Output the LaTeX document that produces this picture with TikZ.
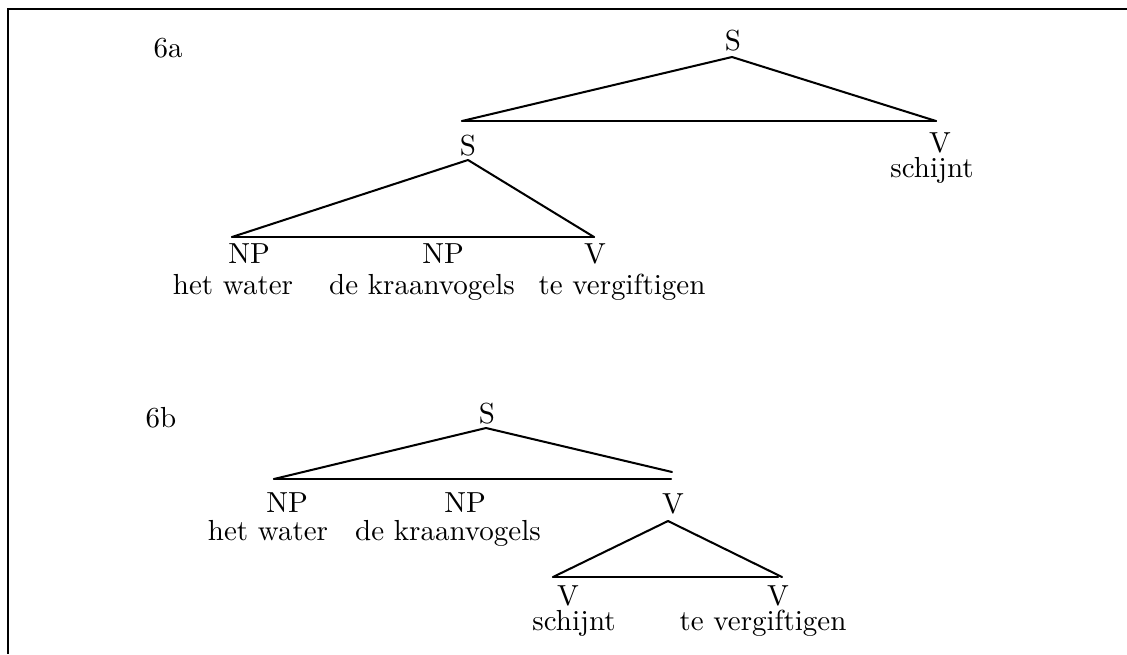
\documentclass[tikz,border=0pt]{standalone}
\begin{document}
\begin{tikzpicture}[x=0.3448pt,y=-0.3448pt,
  lbl/.style={anchor=base,inner sep=0pt,font=\fontsize{10}{12}\selectfont},
  branch/.style={line width=0.7pt,line cap=round,line join=round},
  frame/.style={line width=0.9pt}]
\useasboundingbox (0,0) rectangle (1127,654);
\fill[white] (0,0) rectangle (1127,654);
% frame
\coordinate (fTR) at (1127,9);
\coordinate (fTL) at (8,9);
\coordinate (fBL) at (8,654);
\draw[frame] (fTR) -- (fTL) -- (fBL);

% ---------- 6a ----------
\node[lbl,anchor=base west] (l6a) at (153,57) {6a};
\node[lbl] (aS) at (733,50) {S};
\coordinate (aSap) at (732,57);
\coordinate (aL) at (462,121);
\coordinate (aR) at (936,121);
\draw[branch] (aL) -- (aSap) -- (aR);
\draw[branch] (aL) -- (aR);
\node[lbl] (aS2) at (468,155) {S};
\node[lbl] (aV1) at (940,152) {V};
\node[lbl] (aV1w) at (932,177) {schijnt};
\coordinate (aS2ap) at (468,160);
\coordinate (bL) at (232,237);
\coordinate (bR) at (594,237);
\draw[branch] (bL) -- (aS2ap) -- (bR);
\draw[branch] (bL) -- (bR);
\node[lbl] (aNP1) at (249,263) {NP};
\node[lbl] (aNP1w) at (233,294) {het water};
\node[lbl] (aNP2) at (443,263) {NP};
\node[lbl] (aNP2w) at (422,294) {de kraanvogels};
\node[lbl] (aV2) at (595,263) {V};
\node[lbl] (aV2w) at (622,294) {te vergiftigen};

% ---------- 6b ----------
\node[lbl,anchor=base west] (l6b) at (145,427) {6b};
\node[lbl] (bS) at (487,423) {S};
\coordinate (bSap) at (486,428);
\coordinate (cL) at (274,479);
\coordinate (cR) at (672,472);
\coordinate (cRh) at (671,479);
\draw[branch] (cL) -- (bSap) -- (cR);
\draw[branch] (cL) -- (cRh);
\node[lbl] (bNP1) at (287,512) {NP};
\node[lbl] (bNP1w) at (268,540) {het water};
\node[lbl] (bNP2) at (465,512) {NP};
\node[lbl] (bNP2w) at (448,540) {de kraanvogels};
\node[lbl] (bV) at (673,513) {V};
\coordinate (bVap) at (668,521);
\coordinate (dL) at (553,577);
\coordinate (dR) at (782,577);
\coordinate (dRh) at (778,577);
\draw[branch] (dL) -- (bVap) -- (dR);
\draw[branch] (dL) -- (dRh);
\node[lbl] (bV1) at (568,605) {V};
\node[lbl] (bV1w) at (574,630) {schijnt};
\node[lbl] (bV2) at (778,605) {V};
\node[lbl] (bV2w) at (763,630) {te vergiftigen};
\end{tikzpicture}
\end{document}
